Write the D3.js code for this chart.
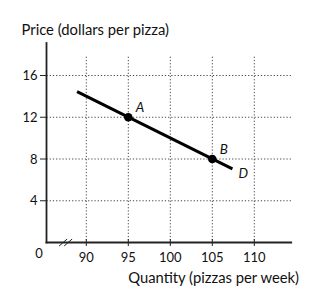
<!DOCTYPE html>
<html>
<head>
<meta charset="utf-8">
<script src="https://cdn.jsdelivr.net/npm/d3@7"></script>
<style>
  body { margin: 0; background: #fff; }
  text { font-family: Lato, "Open Sans", sans-serif; fill: #111; }
  .grid { stroke: #444; stroke-width: 1; stroke-dasharray: 1.2, 2; fill: none; }
</style>
</head>
<body>
<svg></svg>
<script>
var xTicks = [90, 95, 100, 105, 110];
var yTicks = [4, 8, 12, 16];
var demandLine = [[88.9, 14.45], [107.4, 7.05]];
var points = [
  ["A", 95, 12],
  ["B", 105, 8]
];
var curveLabel = ["D", 107.4, 7.05];

var width = 322, height = 308;
var originX = 46.5;

var x = d3.scaleLinear()
    .domain([90, 110])
    .range([86.3, 254.3]);
var y = d3.scaleLinear()
    .domain([0, 16])
    .range([242.5, 75.5]);

var svg = d3.select("svg")
    .attr("width", width)
    .attr("height", height);

// dotted grid
xTicks.forEach(function(d) {
  svg.append("line")
    .attr("class", "grid")
    .attr("x1", x(d)).attr("x2", x(d))
    .attr("y1", y(17.8)).attr("y2", y(0));
});
yTicks.forEach(function(d) {
  svg.append("line")
    .attr("class", "grid")
    .attr("x1", originX).attr("x2", x(114.5))
    .attr("y1", y(d)).attr("y2", y(d));
});

// axes
svg.append("line")
  .attr("x1", originX).attr("x2", originX)
  .attr("y1", y(19.2)).attr("y2", y(0) + 0.9)
  .style("stroke", "#222").style("stroke-width", 1.8);
svg.append("line")
  .attr("x1", originX - 0.9).attr("x2", x(114.5))
  .attr("y1", y(0)).attr("y2", y(0))
  .style("stroke", "#222").style("stroke-width", 1.8);

// axis break marks
[-3, 2].forEach(function(o) {
  svg.append("line")
    .attr("x1", x(87.6) + o - 4).attr("x2", x(87.6) + o + 4)
    .attr("y1", y(0) + 3.5).attr("y2", y(0) - 3.5)
    .style("stroke", "#222").style("stroke-width", 1);
});

// ticks
xTicks.forEach(function(d) {
  svg.append("line")
    .attr("x1", x(d)).attr("x2", x(d))
    .attr("y1", y(0) - 3.5).attr("y2", y(0) + 3.5)
    .style("stroke", "#222").style("stroke-width", 1);
  svg.append("text")
    .attr("x", x(d)).attr("y", y(0) + 19.5)
    .attr("text-anchor", "middle")
    .style("font-size", "13px")
    .text(d);
});
yTicks.forEach(function(d) {
  svg.append("line")
    .attr("x1", originX - 6.5).attr("x2", originX)
    .attr("y1", y(d)).attr("y2", y(d))
    .style("stroke", "#222").style("stroke-width", 1);
  svg.append("text")
    .attr("x", originX - 9).attr("y", y(d) + 4.7)
    .attr("text-anchor", "end")
    .style("font-size", "13px")
    .text(d);
});
svg.append("text")
  .attr("x", originX - 7.5).attr("y", y(0) + 15)
  .attr("text-anchor", "middle")
  .style("font-size", "13px")
  .text("0");

// axis titles
svg.append("text")
  .attr("x", 21.5).attr("y", 35)
  .style("font-size", "14.8px")
  .text("Price (dollars per pizza)");
svg.append("text")
  .attr("x", 299).attr("y", 283)
  .attr("text-anchor", "end")
  .style("font-size", "14.8px")
  .text("Quantity (pizzas per week)");

// demand curve
var line = d3.line()
    .x(function(d) { return x(d[0]); })
    .y(function(d) { return y(d[1]); });
svg.append("path")
  .datum(demandLine)
  .attr("d", line)
  .style("stroke", "#000").style("stroke-width", 3)
  .style("fill", "none");

points.forEach(function(p) {
  svg.append("circle")
    .attr("cx", x(p[1])).attr("cy", y(p[2]))
    .attr("r", 4.3)
    .style("fill", "#000");
  svg.append("text")
    .attr("x", x(p[1]) + 7.5).attr("y", y(p[2]) - 5)
    .style("font-size", "13.5px").style("font-style", "italic")
    .text(p[0]);
});
svg.append("text")
  .attr("x", x(curveLabel[1]) + 6).attr("y", y(curveLabel[2]) + 9.5)
  .style("font-size", "13.5px").style("font-style", "italic")
  .text(curveLabel[0]);
</script>
</body>
</html>
